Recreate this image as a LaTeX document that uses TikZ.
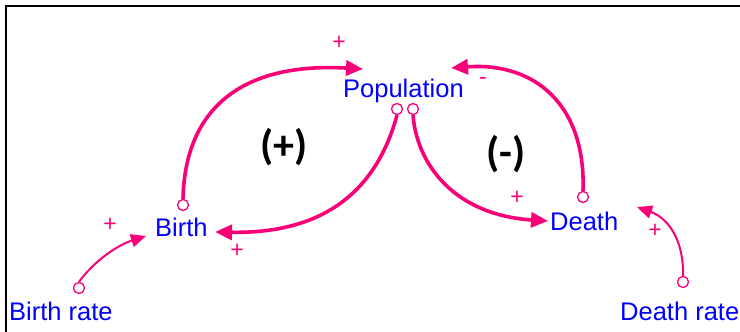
\documentclass[tikz,border=0pt]{standalone}
\usepackage{fontspec}
\setmainfont{Liberation Sans}
\newfontfamily\loopfont{Carlito}
\usetikzlibrary{arrows.meta}
\definecolor{lnk}{RGB}{250,0,120}
\definecolor{vblue}{RGB}{0,0,255}
\tikzset{
  var/.style={text=vblue, inner sep=0pt, font=\fontsize{25.5}{30}\selectfont, anchor=base west},
  sgn/.style={text=lnk, inner sep=0pt, font=\fontsize{23}{26}\selectfont},
  loopl/.style={inner sep=0pt, font=\fontsize{42}{48}\loopfont\bfseries},
  tail/.style={circle, draw=lnk, line width=1.3pt, minimum size=11pt, inner sep=0pt},
  thick link/.style={draw=lnk, line width=3.6pt, -{Triangle[length=17pt,width=15pt]}},
  thin link/.style={draw=lnk, line width=2pt, -{Triangle[length=15pt,width=13pt]}},
}
\begin{document}
\begin{tikzpicture}[x=1pt,y=-1pt]
\useasboundingbox (0,0) rectangle (740,332);
% frame
\draw[line width=2.3pt] (6.2,333) -- (6.2,5.7) -- (741,5.7);
% variables
\node[var] (pop) at (343,97.5) {Population};
\node[var] (birth) at (155,236) {Birth};
\node[var] (death) at (550,230) {Death};
\node[var] (brate) at (9,320) {Birth rate};
\node[var] (drate) at (620,320) {Death rate};
% tails
\node[tail] (tb) at (183,205) {};
\node[tail] (tp1) at (397,109) {};
\node[tail] (tp2) at (413,109) {};
\node[tail] (td) at (583,197) {};
\node[tail] (tbr) at (79,288) {};
\node[tail] (tdr) at (683,282) {};
% heads
\coordinate (hpopL) at (363,69);
\coordinate (hpopR) at (451,68);
\coordinate (hbirth) at (215,232);
\coordinate (hdeath) at (548,221);
\coordinate (hbirthL) at (146,236);
\coordinate (hdeathR) at (637,207);
% links
\draw[thick link] (tb.north) .. controls (185,110) and (240,62) .. (hpopL);
\draw[thick link] (tp1.south) .. controls (378,185) and (330,234) .. (hbirth);
\draw[thick link] (tp2.south) .. controls (417,165) and (455,215) .. (hdeath);
\draw[thick link] (td.north) .. controls (586,105) and (535,62) .. (hpopR);
\draw[thin link] (tbr.north) .. controls (95,260) and (118,245) .. (hbirthL);
\draw[thin link] (tdr.north) .. controls (684,240) and (668,218) .. (hdeathR);
% signs
\node[sgn] (s1) at (339,43) {+};
\node[sgn] (s2) at (483,81) {-};
\node[sgn] (s3) at (517,198) {+};
\node[sgn] (s4) at (237,251) {+};
\node[sgn] (s5) at (110,225) {+};
\node[sgn] (s6) at (655,231) {+};
% loop labels
\node[loopl] (l1) at (284,147) {(+)};
\node[loopl] (l2) at (506,154) {(-)};
\end{tikzpicture}
\end{document}
